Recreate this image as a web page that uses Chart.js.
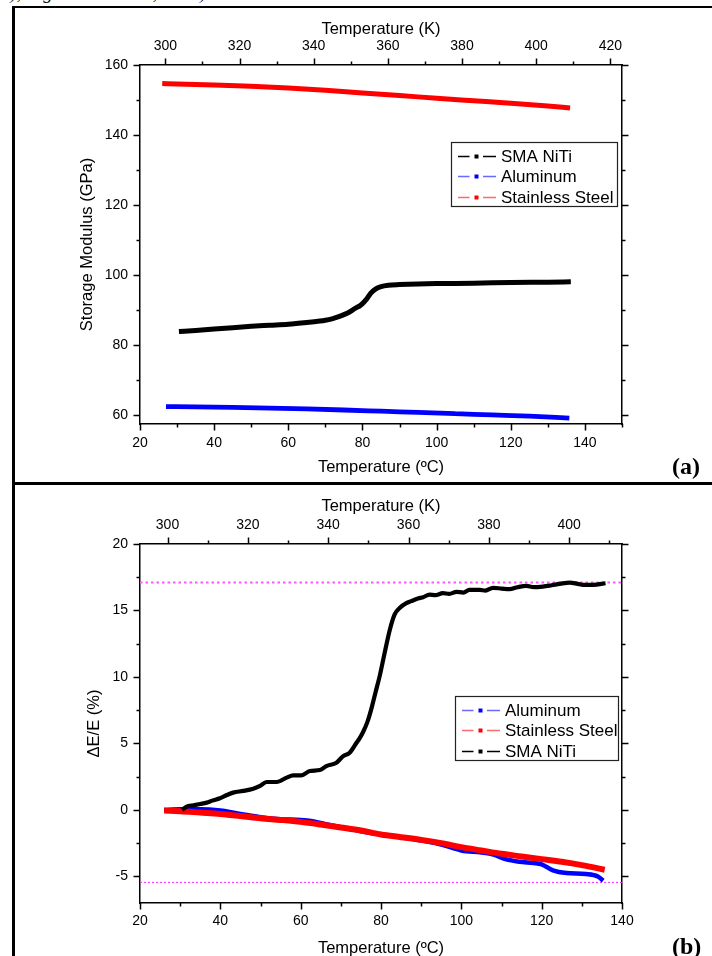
<!DOCTYPE html>
<html>
<head>
<meta charset="utf-8">
<script src="https://cdn.jsdelivr.net/npm/chart.js@4.4.1/dist/chart.umd.min.js"></script>
<style>
    html, body { margin: 0; padding: 0; background: #fff; overflow: hidden; }
    #page { position: relative; width: 712px; height: 956px; overflow: hidden; background: #fff; }
    canvas { position: absolute; left: 0; }
    .rule { position: absolute; background: #000; }
    .cite { position: absolute; left: 2px; top: -18px; font: italic 19px "Liberation Serif", serif; white-space: nowrap; }
    .tag { position: absolute; left: 672px; width: 36px; height: 28px; line-height: 28px;
           font: bold 24px "Liberation Serif", serif; color: #000; }
</style>
</head>
<body>
<div id="page">
    <div class="cite">e), Figueiredo et al., 1998).</div>
    <canvas id="chart_a" width="712" height="483" style="top:0"></canvas>
    <canvas id="chart_b" width="712" height="476" style="top:484px"></canvas>
    <div class="rule" style="left:12px; top:6px; width:700px; height:2px"></div>
    <div class="rule" style="left:12px; top:6px; width:2.5px; height:950px"></div>
    <div class="rule" style="left:12px; top:482px; width:700px; height:3px"></div>
    <div class="tag" style="top:453px">(a)</div>
    <div class="tag" style="top:933px">(b)</div>
</div>
<script>
// panel (a): storage modulus (GPa) against temperature (°C)
const tempNiTiA = [30.5, 35, 40, 45, 50, 55, 60, 65, 70, 72, 74, 76, 78, 79.5, 81, 82.2, 83.5, 85, 87, 90, 95, 100, 110, 120, 130, 136.2];
const modNiTiA  = [83.9, 84.2, 84.6, 85.0, 85.4, 85.7, 86.0, 86.5, 87.1, 87.6, 88.3, 89.2, 90.5, 91.4, 93.0, 94.8, 96.0, 96.7, 97.1, 97.3, 97.5, 97.6, 97.7, 97.9, 98.0, 98.1];
const tempAlA   = [27, 35, 45, 55, 65, 75, 85, 95, 105, 115, 125, 135.8];
const modAlA    = [62.45, 62.4, 62.25, 62.05, 61.8, 61.5, 61.15, 60.8, 60.45, 60.1, 59.75, 59.2];
const tempSteelA = [26, 30, 40, 50, 60, 70, 80, 90, 100, 110, 120, 130, 136];
const modSteelA  = [154.7, 154.6, 154.3, 153.9, 153.4, 152.8, 152.0, 151.3, 150.5, 149.8, 149.1, 148.3, 147.7];

// panel (b): ΔE/E (%) against temperature (°C)
const tempNiTiB = [30.5, 31.6, 33.3, 35, 36.6, 38, 39.9, 41.5, 43.2, 45.7, 48.2, 49.9, 51.5, 54, 56.5, 58.1, 60.2, 62.3, 64.8, 66.4, 68.9, 70.6, 72.2, 73.9, 74.7, 75.6, 76.6, 77.6, 78.6, 79.7, 80.9, 82.2, 83.4, 84.7, 86.3, 87.5, 89.2, 90.5, 92.1, 93.5, 95.4, 97, 98.8, 100.5, 102, 104.6, 106, 107.9, 110, 112, 114, 116.2, 118, 120.3, 122.5, 124.5, 127, 129, 130.3, 132.8, 135.9];
const dNiTiB    = [0.0, 0.25, 0.35, 0.45, 0.55, 0.7, 0.88, 1.1, 1.3, 1.43, 1.6, 1.8, 2.1, 2.1, 2.43, 2.6, 2.6, 2.93, 3.0, 3.3, 3.55, 4.05, 4.3, 5.05, 5.4, 5.9, 6.6, 7.6, 8.8, 10.1, 11.8, 13.55, 14.7, 15.2, 15.55, 15.7, 15.9, 16.0, 16.2, 16.15, 16.3, 16.25, 16.4, 16.35, 16.55, 16.55, 16.5, 16.7, 16.65, 16.6, 16.75, 16.85, 16.75, 16.8, 16.9, 17.0, 17.1, 17.0, 16.93, 16.93, 17.05];
const tempAlB   = [26, 30, 35, 40, 45, 50, 55, 60, 63, 66, 70, 75, 80, 85, 90, 95, 100, 105, 108, 111, 114.5, 118, 120, 122.8, 126.2, 131, 134, 135.3];
const dAlB      = [0.0, 0.05, 0.05, -0.05, -0.3, -0.55, -0.7, -0.75, -0.85, -1.05, -1.3, -1.6, -1.85, -2.05, -2.3, -2.6, -3.05, -3.2, -3.35, -3.7, -3.9, -4.0, -4.1, -4.55, -4.75, -4.82, -5.0, -5.32];
const tempSteelB = [26, 30, 35, 40, 45, 50, 55, 60, 65, 70, 75, 80, 85, 90, 95, 100, 105, 110, 115, 120, 125, 130, 135.7];
const dSteelB    = [-0.05, -0.1, -0.2, -0.3, -0.45, -0.62, -0.75, -0.9, -1.1, -1.32, -1.55, -1.85, -2.05, -2.25, -2.5, -2.8, -3.05, -3.3, -3.5, -3.7, -3.9, -4.15, -4.5];
const refLevelsB = [17.1, -5.45];

// axes (top axes are the same temperature in kelvin)
const KELVIN = 273.15;
const xRangeA = [20, 150];
const yRangeA = [57.5, 160];
const xTicksA = [20, 40, 60, 80, 100, 120, 140];
const xMinorA = [30, 50, 70, 90, 110, 130, 150];
const kTicksA = [300, 320, 340, 360, 380, 400, 420];
const kMinorA = [310, 330, 350, 370, 390, 410];
const yTicksA = [60, 80, 100, 120, 140, 160];
const yMinorA = [70, 90, 110, 130, 150];

const xRangeB = [20, 140];
const yRangeB = [-7, 20];
const xTicksB = [20, 40, 60, 80, 100, 120, 140];
const xMinorB = [30, 50, 70, 90, 110, 130];
const kTicksB = [300, 320, 340, 360, 380, 400];
const kMinorB = [310, 330, 350, 370, 390, 410];
const yTicksB = [-5, 0, 5, 10, 15, 20];
const yMinorB = [-2.5, 2.5, 7.5, 12.5, 17.5];

const legendOrderA = ['SMA NiTi', 'Aluminum', 'Stainless Steel'];
const legendOrderB = ['Aluminum', 'Stainless Steel', 'SMA NiTi'];

const FAMILY = '"Liberation Sans", Arial, sans-serif';
const tickFont = {family: FAMILY, size: 14};
const titleFont = {family: FAMILY, size: 16.5};

function pts(xs, ys) {
    return xs.map((x, i) => ({x: x, y: ys[i]}));
}

function series(label, xs, ys, color, width, dash) {
    return {
        label: label,
        data: pts(xs, ys),
        borderColor: color,
        backgroundColor: color,
        legendDash: dash,
        borderWidth: width,
        pointRadius: 0,
        cubicInterpolationMode: 'monotone',
        fill: false,
    };
}

// one axis; size is the fixed thickness of the axis box in px
function axis(position, range, major, size, labels, title, pad) {
    const horizontal = (position === 'top' || position === 'bottom');
    return {
        type: 'linear',
        position: position,
        min: range[0],
        max: range[1],
        bounds: 'data',
        afterBuildTicks: (s) => { s.ticks = major.map((v) => ({value: v})); },
        afterFit: (s) => { if (horizontal) { s.height = size; } else { s.width = size; } },
        grid: {display: false, drawTicks: false},
        border: {display: true, color: '#000', width: 1.5},
        ticks: {display: labels, color: '#000', font: tickFont, padding: pad, autoSkip: false, maxRotation: 0},
        title: title ? {display: true, text: title.text, color: '#000', font: titleFont, padding: title.padding}
                     : {display: false},
    };
}

// origin-style outward tick marks, major and minor
const originTicks = {
    id: 'originTicks',
    afterDraw(chart, args, opts) {
        const ctx = chart.ctx;
        ctx.save();
        ctx.strokeStyle = '#000';
        ctx.lineWidth = 1.5;
        for (const id of Object.keys(chart.scales)) {
            const s = chart.scales[id];
            const sets = [[s.ticks.map((t) => t.value), opts.majorLen], [opts.minor[id] || [], opts.minorLen]];
            for (const [values, len] of sets) {
                for (const v of values) {
                    if (v < s.min - 1e-6 || v > s.max + 1e-6) continue;
                    const p = Math.round(s.getPixelForValue(v)) + 0.5;
                    ctx.beginPath();
                    const pos = s.options.position;
                    if (pos === 'bottom') { ctx.moveTo(p, s.top); ctx.lineTo(p, s.top + len); }
                    if (pos === 'top') { ctx.moveTo(p, s.bottom); ctx.lineTo(p, s.bottom - len); }
                    if (pos === 'left') { ctx.moveTo(s.right, p); ctx.lineTo(s.right - len, p); }
                    if (pos === 'right') { ctx.moveTo(s.left, p); ctx.lineTo(s.left + len, p); }
                    ctx.stroke();
                }
            }
        }
        ctx.restore();
    }
};

// boxed legend inside the plot, "— ▪ —" symbols
const boxLegend = {
    id: 'boxLegend',
    afterDraw(chart, args, opts) {
        const ctx = chart.ctx;
        const area = chart.chartArea;
        const x0 = area.right - opts.right - opts.width;
        const y0 = area.top + opts.top;
        ctx.save();
        ctx.fillStyle = '#fff';
        ctx.fillRect(x0, y0, opts.width, opts.height);
        ctx.strokeStyle = '#222';
        ctx.lineWidth = 1.2;
        ctx.strokeRect(x0 + 0.5, y0 + 0.5, opts.width, opts.height);
        ctx.font = '17px ' + FAMILY;
        ctx.textBaseline = 'middle';
        opts.order.forEach((label, i) => {
            const ds = chart.data.datasets.find((d) => d.label === label);
            const y = Math.round(y0 + opts.first + i * opts.step) + 0.5;
            ctx.strokeStyle = ds.legendDash;
            ctx.lineWidth = 1.4;
            ctx.beginPath();
            ctx.moveTo(x0 + 7, y); ctx.lineTo(x0 + 18.5, y);
            ctx.moveTo(x0 + 32, y); ctx.lineTo(x0 + 45, y);
            ctx.stroke();
            ctx.fillStyle = ds.borderColor;
            ctx.fillRect(x0 + 23.5, y - 2, 4, 4);
            ctx.fillStyle = '#000';
            ctx.fillText(label, x0 + 50, y + 1);
        });
        ctx.restore();
    }
};

const baseOptions = {
    responsive: false,
    animation: false,
    events: [],
    layout: {padding: 0},
};

const chart_a = new Chart(document.getElementById('chart_a'), {
    type: 'line',
    data: {
        datasets: [
            series('SMA NiTi', tempNiTiA, modNiTiA, '#000000', 5, '#000000'),
            series('Aluminum', tempAlA, modAlA, '#0000ff', 4.8, '#6a6aff'),
            series('Stainless Steel', tempSteelA, modSteelA, '#ff0000', 5, '#ff6a6a'),
        ]
    },
    options: Object.assign({}, baseOptions, {
        scales: {
            x: axis('bottom', xRangeA, xTicksA, 59, true,
                {text: 'Temperature (ºC)', padding: {top: 0, bottom: 6}}, 11),
            x2: axis('top', [xRangeA[0] + KELVIN, xRangeA[1] + KELVIN], kTicksA, 65, true,
                {text: 'Temperature (K)', padding: {top: 20, bottom: 0}}, 10),
            y: axis('left', yRangeA, yTicksA, 140, true,
                {text: 'Storage Modulus (GPa)', padding: {top: 78, bottom: 0}}, 12),
            y2: axis('right', yRangeA, yTicksA, 90, false, null, 0),
        },
        plugins: {
            legend: {display: false},
            tooltip: {enabled: false},
            originTicks: {majorLen: 6.5, minorLen: 3.5, minor: {x: xMinorA, x2: kMinorA, y: yMinorA, y2: yMinorA}},
            boxLegend: {order: legendOrderA, right: 5, top: 77, width: 166, height: 64, first: 14, step: 20.3},
        }
    }),
    plugins: [originTicks, boxLegend]
});

const refSets = refLevelsB.map((v, i) => ({
    label: 'ref' + i,
    data: pts(xRangeB, [v, v]),
    borderColor: i === 0 ? '#ff55ff' : '#ff22ff',
    borderWidth: i === 0 ? 2 : 1,
    borderDash: i === 0 ? [2.5, 3] : [2, 2],
    pointRadius: 0,
    fill: false,
}));

const chart_b = new Chart(document.getElementById('chart_b'), {
    type: 'line',
    data: {
        datasets: [
            series('SMA NiTi', tempNiTiB, dNiTiB, '#000000', 4.2, '#000000'),
            series('Stainless Steel', tempSteelB, dSteelB, '#ff0000', 6, '#ff6a6a'),
            series('Aluminum', tempAlB, dAlB, '#0000ff', 4.5, '#6a6aff'),
        ].concat(refSets)
    },
    options: Object.assign({}, baseOptions, {
        scales: {
            x: axis('bottom', xRangeB, xTicksB, 57, true,
                {text: 'Temperature (ºC)', padding: {top: 0, bottom: 2}}, 10),
            x2: axis('top', [xRangeB[0] + KELVIN, xRangeB[1] + KELVIN], kTicksB, 60, true,
                {text: 'Temperature (K)', padding: {top: 13, bottom: 0}}, 10),
            y: axis('left', yRangeB, yTicksB, 140, true,
                {text: 'ΔE/E (%)', padding: {top: 85, bottom: 0}}, 12),
            y2: axis('right', yRangeB, yTicksB, 90, false, null, 0),
        },
        plugins: {
            legend: {display: false},
            tooltip: {enabled: false},
            originTicks: {majorLen: 6.5, minorLen: 3.5, minor: {x: xMinorB, x2: kMinorB, y: yMinorB, y2: yMinorB}},
            boxLegend: {order: legendOrderB, right: 4, top: 152, width: 163, height: 64, first: 13.5, step: 20.7},
        }
    }),
    plugins: [originTicks, boxLegend]
});
</script>
</body>
</html>
